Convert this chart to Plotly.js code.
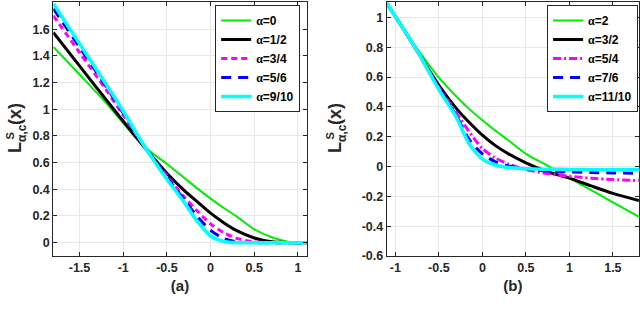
<!DOCTYPE html>
<html>
<head>
<meta charset="utf-8">
<script src="https://cdn.plot.ly/plotly-3.0.1.min.js"></script>
<style>html,body{margin:0;padding:0;background:#fff;}#chart{width:640px;height:312px;}</style>
</head>
<body>
<div id="chart"></div>
<script>
// ---- Panel (a) data ----
const xA = [-1.8, -1.5, -1.2, -1.0, -0.75, -0.5, -0.3, -0.15, 0, 0.15, 0.3, 0.5, 0.7, 0.9, 1.1];
const yA_0    = [1.467, 1.26, 1.05, 0.895, 0.715, 0.59, 0.485, 0.405, 0.33, 0.26, 0.195, 0.10, 0.04, 0.005, 0];
const yA_1_2  = [1.575, 1.325, 1.075, 0.91, 0.71, 0.52, 0.39, 0.305, 0.221, 0.15, 0.09, 0.035, 0.006, 0, 0];
const yA_3_4  = [1.70, 1.425, 1.15, 0.955, 0.715, 0.50, 0.34, 0.235, 0.14, 0.075, 0.032, 0.006, 0, 0, 0];
const yA_5_6  = [1.755, 1.465, 1.175, 0.97, 0.715, 0.49, 0.32, 0.195, 0.092, 0.032, 0.007, 0, 0, 0, 0];
const yA_9_10 = [1.79, 1.49, 1.19, 0.985, 0.715, 0.475, 0.30, 0.158, 0.05, 0.009, 0, 0, 0, 0, 0];
const namesA = ["0", "1/2", "3/4", "5/6", "9/10"];

// ---- Panel (b) data ----
const xB = [-1.1, -0.9, -0.75, -0.5, -0.3, -0.15, 0, 0.15, 0.3, 0.5, 0.75, 1.0, 1.25, 1.5, 1.8];
const yB_2     = [1.095, 0.915, 0.79, 0.596, 0.47, 0.385, 0.31, 0.24, 0.175, 0.085, 0.005, -0.077, -0.158, -0.24, -0.337];
const yB_3_2   = [1.095, 0.915, 0.775, 0.545, 0.39, 0.295, 0.21, 0.14, 0.085, 0.025, -0.035, -0.078, -0.13, -0.18, -0.228];
const yB_5_4   = [1.095, 0.915, 0.775, 0.53, 0.36, 0.232, 0.12, 0.057, 0.016, -0.02, -0.048, -0.066, -0.078, -0.087, -0.094];
const yB_7_6   = [1.095, 0.915, 0.775, 0.52, 0.34, 0.18, 0.085, 0.032, 0.004, -0.015, -0.03, -0.036, -0.04, -0.043, -0.045];
const yB_11_10 = [1.095, 0.915, 0.775, 0.515, 0.33, 0.15, 0.05, 0.01, -0.007, -0.015, -0.018, -0.02, -0.021, -0.022, -0.022];
const namesB = ["2", "3/2", "5/4", "7/6", "11/10"];

// ---- Tick labels ----
const xTickValsA = [-1.5, -1, -0.5, 0, 0.5, 1];
const xTickTextA = ["-1.5", "-1", "-0.5", "0", "0.5", "1"];
const yTickValsA = [0, 0.2, 0.4, 0.6, 0.8, 1, 1.2, 1.4, 1.6];
const yTickTextA = ["0", "0.2", "0.4", "0.6", "0.8", "1", "1.2", "1.4", "1.6"];
const xTickValsB = [-1, -0.5, 0, 0.5, 1, 1.5];
const xTickTextB = ["-1", "-0.5", "0", "0.5", "1", "1.5"];
const yTickValsB = [-0.6, -0.4, -0.2, 0, 0.2, 0.4, 0.6, 0.8, 1];
const yTickTextB = ["-0.6", "-0.4", "-0.2", "0", "0.2", "0.4", "0.6", "0.8", "1"];

const alpha = n => '<span style="font-family:Liberation Serif">α</span>=' + n;

const styles = [
  {color: '#00ee00', width: 2, dash: 'solid'},
  {color: '#000000', width: 3, dash: 'solid'},
  {color: '#ff00ff', width: 3, dash: '6px,4px'},
  {color: '#0000ff', width: 3, dash: '10px,7px'},
  {color: '#00ffff', width: 3.5, dash: 'solid'}
];
const stylesB = styles.map((s, i) => i === 2 ? Object.assign({}, s, {dash: '8px,3px,2px,3px'}) : s);

const seriesA = [yA_0, yA_1_2, yA_3_4, yA_5_6, yA_9_10];
const seriesB = [yB_2, yB_3_2, yB_5_4, yB_7_6, yB_11_10];

const traces = [];
seriesA.forEach((ys, i) => traces.push({
  x: xA, y: ys, xaxis: 'x', yaxis: 'y', type: 'scatter', mode: 'lines',
  name: alpha(namesA[i]), legend: 'legend',
  line: {color: styles[i].color, width: styles[i].width, dash: styles[i].dash, shape: 'spline', smoothing: 0.8}
}));
seriesB.forEach((ys, i) => traces.push({
  x: xB, y: ys, xaxis: 'x2', yaxis: 'y2', type: 'scatter', mode: 'lines',
  name: alpha(namesB[i]), legend: 'legend2',
  line: {color: stylesB[i].color, width: stylesB[i].width, dash: stylesB[i].dash, shape: 'spline', smoothing: 0.8}
}));

const FONT = 'Liberation Sans, Arial, sans-serif';
const axBase = {
  showline: true, linecolor: '#262626', linewidth: 1, mirror: 'ticks',
  ticks: 'inside', ticklen: 4, tickcolor: '#262626', tickwidth: 1,
  showgrid: true, gridcolor: '#e8e8e8', gridwidth: 1, zeroline: false,
  tickfont: {size: 12.5, weight: 'bold', color: '#262626', family: FONT},
  automargin: false, tickmode: 'array'
};
const titleFont = {size: 15, weight: 'bold', color: '#262626', family: FONT};
const legBase = {
  bgcolor: '#ffffff', bordercolor: '#262626', borderwidth: 1,
  font: {size: 12, weight: 'bold', color: '#000000', family: FONT},
  xanchor: 'right', yanchor: 'top', tracegroupgap: 0, itemwidth: 30
};

// y-axis label pieces: L, superscript S stacked over subscript α,c, then (x)
const W = 640, H = 312;
const lab = (px, py, text, size) => ({
  xref: 'paper', yref: 'paper', x: px / W, y: 1 - py / H, xanchor: 'center', yanchor: 'middle',
  text: text, textangle: -90, showarrow: false,
  font: {size: size, weight: 'bold', color: '#262626', family: FONT}
});
const yLabel = (dx) => [
  lab(15 + dx, 148, 'L', 18),
  lab(9.5 + dx, 136, 'S', 11),
  lab(22 + dx, 133, 'α,c', 12),
  lab(15 + dx, 114, '(x)', 18)
];

const layout = {
  width: W, height: H,
  margin: {l: 0, r: 0, t: 0, b: 0},
  paper_bgcolor: '#ffffff', plot_bgcolor: '#ffffff',
  showlegend: true,
  xaxis: Object.assign({}, axBase, {domain: [0.0833, 0.4792], range: [-1.8, 1.1], anchor: 'y',
    tickvals: xTickValsA, ticktext: xTickTextA, title: {text: '(a)', font: titleFont, standoff: 6}}),
  yaxis: Object.assign({}, axBase, {domain: [0.1795, 0.992], range: [-0.1, 1.8], anchor: 'x',
    tickvals: yTickValsA, ticktext: yTickTextA}),
  xaxis2: Object.assign({}, axBase, {domain: [0.6042, 0.9984], range: [-1.1, 1.8], anchor: 'y2',
    tickvals: xTickValsB, ticktext: xTickTextB, title: {text: '(b)', font: titleFont, standoff: 6}}),
  yaxis2: Object.assign({}, axBase, {domain: [0.1795, 0.992], range: [-0.6, 1.1], anchor: 'x2',
    tickvals: yTickValsB, ticktext: yTickTextB}),
  legend: Object.assign({}, legBase, {x: 0.469, y: 0.984}),
  legend2: Object.assign({}, legBase, {x: 0.997, y: 0.984}),
  annotations: yLabel(0).concat(yLabel(320))
};

Plotly.newPlot('chart', traces, layout, {displayModeBar: false, staticPlot: true});
</script>
</body>
</html>
